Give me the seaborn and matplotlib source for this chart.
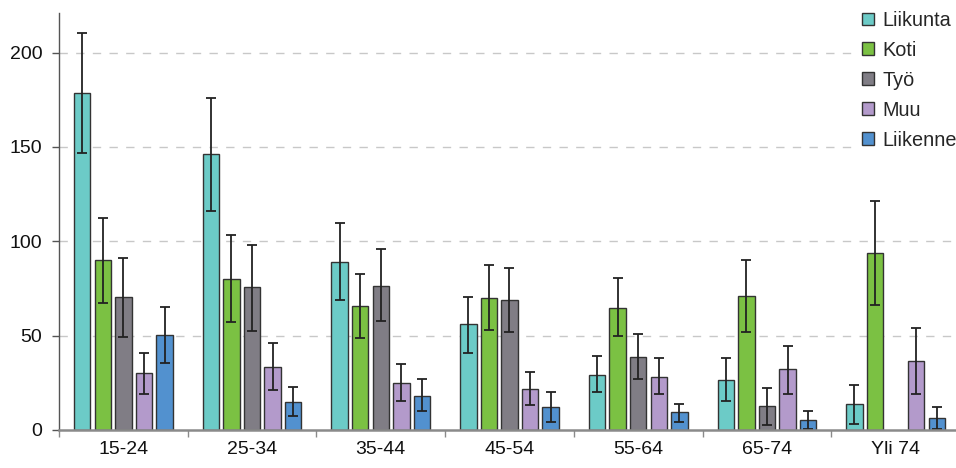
import matplotlib
matplotlib.use("Agg")
import matplotlib.pyplot as plt
import seaborn as sns
import numpy as np
import pandas as pd
from matplotlib.patches import Patch

groups = ["15-24", "25-34", "35-44", "45-54", "55-64", "65-74", "Yli 74"]
series = ["Liikunta", "Koti", "Työ", "Muu", "Liikenne"]

liikunta = [178.5, 146.3, 89.1, 56.0, 29.3, 26.3, 13.9]
koti = [89.9, 80.1, 65.5, 70.1, 64.8, 70.8, 93.9]
tyo = [70.3, 75.6, 76.4, 69.0, 38.8, 12.5, np.nan]
muu = [30.0, 33.5, 24.9, 21.5, 28.2, 32.1, 36.4]
liikenne = [50.1, 15.0, 18.2, 12.4, 9.4, 5.1, 6.2]

liikunta_lo = [147.0, 116.3, 69.0, 40.8, 20.3, 15.2, 3.4]
liikunta_hi = [210.6, 175.8, 109.8, 70.4, 39.4, 38.1, 23.8]
koti_lo = [67.1, 57.2, 48.5, 53.1, 50.0, 51.9, 66.4]
koti_hi = [112.3, 103.1, 82.8, 87.4, 80.3, 90.0, 121.4]
tyo_lo = [49.2, 52.6, 57.9, 51.9, 27.0, 2.6, np.nan]
tyo_hi = [91.3, 97.8, 96.0, 86.0, 50.7, 22.4, np.nan]
muu_lo = [19.2, 21.2, 15.2, 13.1, 19.1, 19.1, 19.1]
muu_hi = [41.0, 46.1, 35.0, 30.9, 38.1, 44.7, 53.8]
liikenne_lo = [35.7, 7.4, 9.9, 4.1, 4.1, 0.7, 0.4]
liikenne_hi = [65.1, 22.9, 27.0, 20.3, 13.9, 9.9, 12.0]

colors = ["#6CCBC7", "#7BC143", "#807D85", "#B39ACB", "#5291CF"]

values = [liikunta, koti, tyo, muu, liikenne]
lows = [liikunta_lo, koti_lo, tyo_lo, muu_lo, liikenne_lo]
highs = [liikunta_hi, koti_hi, tyo_hi, muu_hi, liikenne_hi]

rows = []
for s, vals in zip(series, values):
    for g, v in zip(groups, vals):
        rows.append({"group": g, "series": s, "value": v})
df = pd.DataFrame(rows)

sns.set_theme(style="white")
plt.rcParams["font.family"] = ["Liberation Sans", "DejaVu Sans"]

fig = plt.figure(figsize=(9.56, 4.68), dpi=100)
W, H = 956, 468
ax = fig.add_axes([59 / W, 38 / H, 901 / W, 417 / H])

sns.barplot(data=df.dropna(), x="group", y="value", hue="series",
            order=groups, hue_order=series, palette=colors, saturation=1,
            width=0.8, gap=0.2, errorbar=None, ax=ax,
            edgecolor="#333333", linewidth=1.0, legend=False, zorder=3)

color_index = {c.lower(): i for i, c in enumerate(colors)}
for bar in ax.patches:
    h = bar.get_height()
    if not np.isfinite(h):
        continue
    fc = matplotlib.colors.to_hex(bar.get_facecolor()).lower()
    if fc not in color_index:
        continue
    ci = color_index[fc]
    xc = bar.get_x() + bar.get_width() / 2
    gi = int(round(xc))
    lo, hi = lows[ci][gi], highs[ci][gi]
    if not np.isfinite(lo):
        continue
    ax.errorbar([xc], [h], yerr=[[h - lo], [hi - h]], fmt="none",
                ecolor="#222222", elinewidth=1.3, capsize=3.4,
                capthick=1.3, zorder=4)

ax.set_xlim(-0.5, len(groups) - 0.5)
ax.set_ylim(0, 221)
ax.set_yticks([0, 50, 100, 150, 200])
ax.set_xlabel("")
ax.set_ylabel("")

for yv in [50, 100, 150, 200]:
    ax.axhline(yv, color="#C8C8C8", lw=1.0, ls=(0, (6, 6)), zorder=1)

for sp in ["top", "right"]:
    ax.spines[sp].set_visible(False)
ax.spines["left"].set_color("#555555")
ax.spines["left"].set_linewidth(1.0)
ax.spines["bottom"].set_color("#8A8A8A")
ax.spines["bottom"].set_linewidth(1.8)
ax.spines["bottom"].set_zorder(5)

ax.tick_params(axis="y", which="major", direction="out", length=5,
               width=1.0, color="#555555", labelsize=14, pad=7,
               labelcolor="#111111", left=True)
ax.tick_params(axis="x", which="major", length=0, labelsize=14, pad=8,
               labelcolor="#111111")
ax.set_xticks(np.arange(-0.5, len(groups) + 0.5, 1), minor=True)
ax.tick_params(axis="x", which="minor", direction="out", length=5,
               width=1.0, color="#8A8A8A", bottom=True)

handles = [Patch(facecolor=c, edgecolor="#333333", linewidth=1.0, label=s)
           for c, s in zip(colors, series)]
leg = fig.legend(handles=handles, loc="upper left",
                 bbox_to_anchor=(852 / W, 1 - 1 / H), frameon=True,
                 fancybox=False, facecolor="white", edgecolor="none",
                 framealpha=1.0,
                 fontsize=14.3, handlelength=0.62, handleheight=0.62,
                 handletextpad=0.4, labelspacing=0.55, borderpad=0.5,
                 borderaxespad=0)

fig.savefig("out.png", dpi=100)
